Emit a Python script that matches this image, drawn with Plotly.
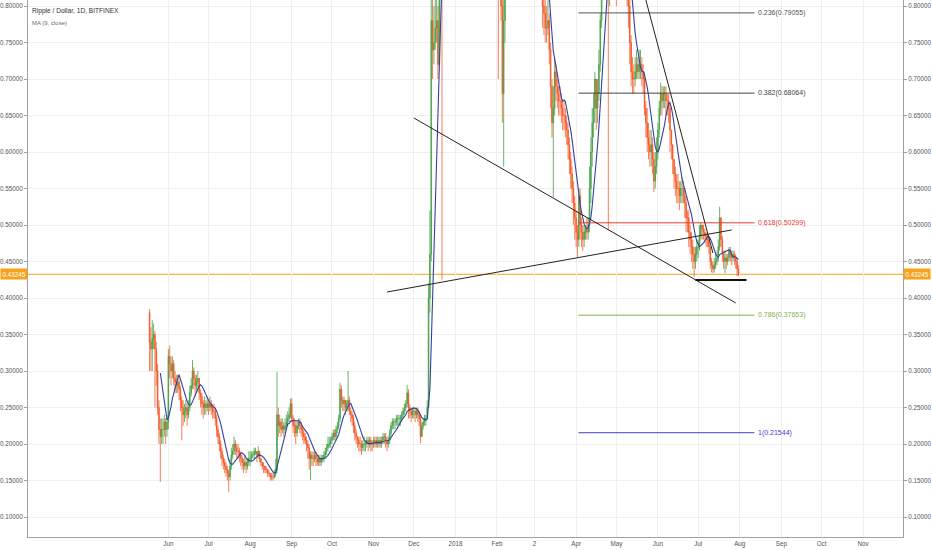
import pandas as pd
import plotly.graph_objects as go

# ---------------- data ----------------
START = "2017-05-18"
FIRST_OPEN = 0.38

close = [
    # May 2017 (18-31)
    .34, .33, .345, .35, .33, .30, .25, .22, .21, .22, .22, .23, .22, .23,
    # Jun 2017
    .32, .31, .30, .31, .29, .285, .28, .285, .275, .26, .25, .24, .245, .25, .24, .25, .27, .28, .30, .29,
    .28, .285, .29, .27, .265, .255, .25, .255, .25, .255,
    # Jul 2017
    .25, .255, .25, .245, .245, .235, .22, .21, .20, .19, .18, .175, .17, .165, .16, .155, .17, .185, .19, .20,
    .195, .19, .19, .185, .18, .175, .17, .175, .17, .175, .18,
    # Aug 2017
    .18, .185, .185, .19, .19, .185, .19, .18, .175, .17, .17, .165, .165, .16, .16, .155, .155, .155, .16, .165,
    .24, .225, .23, .22, .225, .22, .225, .23, .235, .24, .255,
    # Sep 2017
    .235, .225, .225, .215, .225, .23, .225, .22, .215, .21, .205, .20, .195, .18, .185, .18, .18, .185, .18, .175,
    .18, .175, .18, .18, .185, .19, .195, .20, .20, .205,
    # Oct 2017
    .21, .215, .21, .22, .225, .235, .275, .26, .255, .26, .25, .255, .26, .245, .24, .235, .225, .215, .21, .205,
    .20, .20, .195, .20, .20, .20, .205, .20, .205, .20, .20,
    # Nov 2017
    .205, .20, .205, .20, .205, .20, .205, .21, .21, .205, .20, .205, .215, .225, .23, .23, .23, .235, .235, .235,
    .235, .24, .245, .25, .255, .27, .25, .245, .24, .245,
    # Dec 2017
    .245, .24, .245, .24, .235, .21, .225, .23, .235, .235, .25, .40, .46, .78, .74, .75, .77, .78, .72, .90,
    1.10, 1.00, 1.05, 1.00, 1.05, 1.10, 1.30, 1.30, 1.70, 2.00, 2.20,
    # Jan 2018
    2.30, 2.50, 2.90, 3.20, 2.95, 2.80, 2.90, 2.10, 2.00, 1.90, 1.95, 1.85, 2.00, 1.80, 1.75, 1.20, 1.50, 1.60, 1.60, 1.65,
    1.40, 1.30, 1.30, 1.35, 1.35, 1.30, 1.35, 1.45, 1.30, 1.15, 1.15,
    # Feb 2018
    1.00, 0.90, 0.93, 0.80, 0.68, 0.78, 0.82, 0.87, 0.95, 0.98, 1.00, 1.10, 1.05, 1.15, 1.15, 1.17, 1.18, 1.05, 1.10, 1.10,
    1.05, 0.98, 0.97, 0.93, 0.92, 0.95, 0.93, 0.92,
    # Mar 2018
    .92, .90, .93, .92, .90, .84, .80, .79, .77, .77, .78, .74, .69, .64, .66, .71, .69, .68, .67, .67,
    .66, .65, .65, .64, .63, .61, .59, .57, .55, .53, .51,
    # Apr 2018
    .49, .48, .54, .50, .49, .48, .49, .495, .49, .50, .55, .60, .64, .66, .70, .66, .68, .72, .78, .85,
    .87, .88, .92, .93, .82, .88, .85, .88, .90, .86,
    # May 2018
    .85, .88, .91, .90, .91, .87, .84, .83, .83, .80, .75, .71, .70, .70, .71, .72, .71, .72, .72, .71,
    .70, .66, .64, .62, .61, .60, .61, .59, .56, .58, .60,
    # Jun 2018
    .63, .66, .68, .67, .68, .68, .67, .67, .66, .63, .61, .59, .57, .56, .55, .55, .54, .55, .55, .54,
    .53, .51, .51, .49, .48, .47, .46, .45, .46, .47,
    # Jul 2018
    .47, .485, .50, .495, .49, .485, .48, .48, .47, .45, .445, .44, .445, .45, .455, .47, .51, .48, .46, .45,
    .455, .45, .455, .465, .46, .455, .46, .455, .45, .44, .43245,
]

high = [
    .385, .36, .37, .365, .355, .34, .31, .26, .235, .235, .235, .24, .235, .24,
    .33, .335, .32, .32, .315, .30, .295, .295, .29, .28, .265, .26, .255, .26, .255, .26, .28, .29, .315, .305,
    .295, .295, .30, .29, .275, .27, .26, .265, .26, .265,
    .26, .265, .26, .255, .255, .25, .24, .225, .215, .205, .195, .185, .18, .175, .17, .165, .18, .195, .20, .21,
    .205, .20, .20, .195, .19, .185, .18, .185, .18, .18, .19,
    .19, .19, .19, .195, .195, .19, .197, .19, .18, .175, .175, .17, .17, .165, .165, .16, .16, .16, .165, .18,
    .299, .25, .24, .235, .235, .23, .235, .24, .245, .25, .262,
    .263, .24, .235, .23, .23, .235, .235, .23, .225, .22, .215, .21, .205, .20, .19, .19, .19, .19, .19, .185,
    .185, .185, .185, .185, .19, .195, .20, .21, .21, .21,
    .215, .22, .22, .225, .23, .24, .284, .28, .265, .265, .26, .26, .30, .265, .25, .245, .24, .23, .22, .21,
    .21, .21, .205, .205, .21, .205, .21, .21, .21, .21, .205,
    .21, .21, .21, .21, .21, .21, .21, .215, .215, .215, .21, .21, .22, .23, .235, .235, .235, .24, .24, .24,
    .24, .245, .25, .255, .26, .281, .275, .255, .25, .25,
    .25, .25, .25, .25, .245, .24, .23, .235, .24, .24, .26, .42, .52, .90, .85, .80, .82, .83, .80, .95,
    1.20, 1.15, 1.10, 1.10, 1.10, 1.15, 1.35, 1.40, 1.80, 2.10, 2.35,
    2.45, 2.65, 3.00, 3.40, 3.30, 3.00, 3.10, 2.80, 2.20, 2.10, 2.10, 2.00, 2.15, 2.05, 1.90, 1.80, 1.60, 1.75, 1.70, 1.75,
    1.65, 1.45, 1.40, 1.40, 1.40, 1.40, 1.40, 1.50, 1.50, 1.35, 1.25,
    1.15, 1.02, 1.00, 0.95, 0.82, 0.82, 0.90, 0.90, 0.97, 1.00, 1.02, 1.15, 1.12, 1.18, 1.20, 1.20, 1.22, 1.18, 1.12, 1.15,
    1.12, 1.06, 1.02, 0.99, 0.96, 0.98, 0.97, 0.95,
    .96, .95, .95, .96, .93, .91, .85, .82, .81, .80, .81, .79, .75, .70, .69, .73, .72, .70, .69, .69,
    .68, .67, .67, .66, .65, .64, .62, .60, .58, .56, .54,
    .52, .50, .55, .55, .51, .50, .50, .50, .51, .51, .58, .62, .66, .68, .71, .70, .70, .74, .79, .87,
    .90, .92, .94, .96, .94, .90, .89, .90, .92, .91,
    .88, .90, .93, .93, .93, .92, .88, .86, .86, .84, .81, .76, .73, .72, .73, .74, .73, .74, .74, .73,
    .72, .71, .67, .66, .64, .63, .63, .62, .60, .60, .62,
    .64, .67, .695, .69, .69, .69, .69, .68, .68, .67, .63, .61, .59, .58, .57, .57, .56, .56, .565, .56,
    .55, .54, .52, .52, .50, .49, .48, .47, .47, .48,
    .48, .50, .504, .50, .50, .495, .49, .49, .485, .47, .455, .45, .455, .46, .465, .48, .525, .51, .485, .465,
    .465, .46, .46, .47, .47, .465, .465, .465, .46, .455, .445,
]

low = [
    .30, .30, .30, .33, .25, .28, .24, .20, .148, .20, .20, .21, .20, .21,
    .22, .29, .28, .29, .28, .27, .27, .27, .26, .245, .205, .225, .23, .235, .225, .235, .245, .265, .275, .275,
    .265, .27, .275, .26, .25, .24, .235, .24, .24, .245,
    .24, .245, .24, .235, .235, .225, .21, .20, .19, .18, .17, .165, .16, .155, .15, .134, .15, .165, .18, .185,
    .185, .18, .18, .175, .17, .165, .16, .165, .16, .165, .17,
    .17, .175, .18, .18, .185, .175, .18, .175, .17, .165, .16, .16, .16, .155, .155, .15, .15, .15, .152, .155,
    .16, .21, .215, .21, .215, .21, .215, .22, .225, .23, .235,
    .23, .215, .21, .20, .21, .22, .215, .21, .205, .20, .20, .19, .18, .165, .151, .17, .17, .175, .17, .17,
    .17, .17, .17, .175, .175, .18, .185, .19, .195, .195,
    .20, .205, .205, .205, .215, .22, .23, .25, .245, .245, .24, .245, .245, .24, .23, .225, .215, .205, .20, .195,
    .19, .19, .185, .19, .19, .19, .195, .19, .195, .19, .19,
    .195, .195, .195, .195, .195, .195, .195, .20, .20, .195, .19, .195, .20, .21, .22, .22, .22, .225, .225, .225,
    .225, .23, .235, .24, .245, .25, .235, .235, .23, .235,
    .235, .23, .235, .23, .225, .201, .21, .22, .225, .225, .235, .25, .38, .45, .70, .72, .74, .75, .70, .72,
    .90, .425, .95, .95, .98, 1.02, 1.08, 1.15, 1.28, 1.65, 1.90,
    2.05, 2.20, 2.45, 2.85, 2.70, 2.65, 2.70, 2.00, 1.85, 1.70, 1.80, 1.75, 1.80, 1.70, 1.60, 0.90, 1.10, 1.45, 1.50, 1.55,
    1.35, 1.20, 1.20, 1.25, 1.30, 1.25, 1.28, 1.33, 1.28, 1.10, 1.05,
    0.95, 0.70, 0.85, 0.78, 0.64, 0.58, 0.75, 0.82, 0.86, 0.92, 0.95, 0.98, 1.02, 1.02, 1.10, 1.12, 1.12, 1.02, 1.03, 1.06,
    1.02, 0.96, 0.92, 0.90, 0.88, 0.90, 0.90, 0.88,
    .88, .87, .88, .88, .86, .82, .77, .76, .75, .75, .76, .72, .66, .62, .538, .65, .67, .66, .65, .65,
    .64, .63, .63, .62, .61, .59, .57, .55, .53, .50, .48,
    .47, .456, .47, .48, .47, .465, .47, .48, .48, .48, .49, .53, .58, .62, .64, .63, .64, .67, .71, .77,
    .83, .85, .86, .89, .493, .80, .83, .84, .86, .83,
    .80, .83, .86, .86, .87, .85, .81, .81, .80, .77, .72, .69, .68, .68, .69, .70, .70, .70, .70, .69,
    .68, .65, .62, .60, .59, .58, .58, .57, .545, .55, .57,
    .59, .62, .65, .65, .66, .66, .65, .65, .64, .60, .59, .57, .55, .54, .53, .53, .52, .53, .53, .53,
    .51, .49, .49, .47, .46, .45, .44, .429, .44, .45,
    .455, .465, .48, .48, .48, .475, .47, .47, .46, .44, .435, .434, .435, .44, .445, .45, .465, .47, .45, .44,
    .434, .44, .445, .45, .45, .445, .45, .445, .44, .43, .43,
]

month_ticks = ["2017-06-01", "2017-07-01", "2017-08-01", "2017-09-01", "2017-10-01", "2017-11-01",
               "2017-12-01", "2018-01-01", "2018-02-01", "2018-03-01", "2018-04-01", "2018-05-01",
               "2018-06-01", "2018-07-01", "2018-08-01", "2018-09-01", "2018-10-01", "2018-11-01"]
month_labels = ["Jun", "Jul", "Aug", "Sep", "Oct", "Nov", "Dec", "2018", "Feb", "2", "Apr", "May",
                "Jun", "Jul", "Aug", "Sep", "Oct", "Nov"]

price_ticks = [0.10, 0.15, 0.20, 0.25, 0.30, 0.35, 0.40, 0.45, 0.50, 0.55, 0.60, 0.65, 0.70, 0.75, 0.80]

fib_levels = ["0.236", "0.382", "0.618", "0.786", "1"]
fib_prices = [0.79055, 0.68064, 0.50299, 0.37653, 0.21544]
fib_colors = ["#555555", "#444444", "#e53935", "#7cb342", "#3f3fd1"]
fib_span = ("2018-04-02 18:00", "2018-08-12")
fib_label_at = "2018-08-14"

# user-drawn trend lines: (start date, start price, end date, end price)
trend_lines = [
    ("2017-12-01", 0.6466, "2018-07-29", 0.3932),
    ("2017-11-11", 0.4082, "2018-07-26", 0.4932),
    ("2018-05-23", 0.8082, "2018-07-12", 0.4616),
]
support = ("2018-06-29", "2018-08-06", 0.4247)
last_price = 0.43245
ma_len = 9

# ---------------- build ----------------
dates = pd.date_range(START, periods=len(close), freq="D")
opens = [FIRST_OPEN] + close[:-1]
highs = [max(h, o, c) for h, o, c in zip(high, opens, close)]
lows = [min(l, o, c) for l, o, c in zip(low, opens, close)]
ma = pd.Series(close).rolling(ma_len).mean()

UP = "#43a047"
DOWN = "#f4511e"

fig = go.Figure()
fig.add_trace(go.Candlestick(
    x=dates, open=opens, high=highs, low=lows, close=close,
    increasing=dict(fillcolor=UP, line=dict(color="rgba(67,160,71,0.8)", width=1)),
    decreasing=dict(fillcolor=DOWN, line=dict(color="rgba(244,81,30,0.75)", width=1)),
    whiskerwidth=0, showlegend=False, hoverinfo="skip",
))
fig.add_trace(go.Scatter(x=dates, y=ma, mode="lines", line=dict(color="#3341a0", width=1.1),
                         showlegend=False, hoverinfo="skip"))
fig.add_trace(go.Scatter(x=[dates[0]], y=[close[0]], yaxis="y2", mode="markers",
                         marker=dict(opacity=0), showlegend=False, hoverinfo="skip"))

shapes = []
shapes.append(dict(type="line", xref="paper", x0=0, x1=1, yref="y", y0=last_price, y1=last_price,
                   line=dict(color="#f7a21b", width=1), layer="below"))
for lvl, p, col in zip(fib_levels, fib_prices, fib_colors):
    shapes.append(dict(type="line", xref="x", yref="y", x0=fib_span[0], x1=fib_span[1], y0=p, y1=p,
                       line=dict(color=col, width=1)))
for d0, p0, d1, p1 in trend_lines:
    shapes.append(dict(type="line", xref="x", yref="y", x0=d0, y0=p0, x1=d1, y1=p1,
                       line=dict(color="#222222", width=1)))
shapes.append(dict(type="line", xref="x", yref="y", x0=support[0], x1=support[1], y0=support[2], y1=support[2],
                   line=dict(color="#111111", width=2)))

FONT = "Liberation Sans"
annotations = []
for lvl, p, col in zip(fib_levels, fib_prices, fib_colors):
    annotations.append(dict(x=fib_label_at, y=p, xref="x", yref="y", xanchor="left", yanchor="middle",
                            text=f"{lvl}({p:.5f})", showarrow=False, borderpad=0,
                            font=dict(family=FONT, size=7, color=col)))
annotations.append(dict(x=1, y=last_price, xref="paper", yref="y", xanchor="left", yanchor="middle",
                        text=f"{last_price:.5f}", showarrow=False, bgcolor="#f7a21b", borderpad=1.5,
                        font=dict(family=FONT, size=6.3, color="white")))
annotations.append(dict(x=0, y=last_price, xref="paper", yref="y", xanchor="right", yanchor="middle",
                        text=f"{last_price:.5f}", showarrow=False, bgcolor="#f7a21b", borderpad=1.5,
                        font=dict(family=FONT, size=6.3, color="white")))
annotations.append(dict(x=0.003, y=0.9795, xref="paper", yref="paper", xanchor="left", yanchor="middle",
                        text="Ripple / Dollar, 1D, BITFINEX", showarrow=False, borderpad=0,
                        font=dict(family=FONT, size=6.6, color="#333333")))
annotations.append(dict(x=0.003, y=0.957, xref="paper", yref="paper", xanchor="left", yanchor="middle",
                        text="MA (9, close)", showarrow=False, borderpad=0,
                        font=dict(family=FONT, size=6.0, color="#6b6b6b")))

yrange = [0.07260, 0.80822]
axis_font = dict(family=FONT, size=6.3, color="#555555")
fig.update_layout(
    width=932, height=550,
    margin=dict(l=26, r=27, t=0, b=13),
    paper_bgcolor="white", plot_bgcolor="white",
    shapes=shapes, annotations=annotations,
    xaxis=dict(type="date", range=["2017-02-16 08:40", "2018-11-30 17:00"],
               tickvals=month_ticks, ticktext=month_labels, tickfont=axis_font,
               showgrid=True, gridcolor="#efeff2", gridwidth=1,
               showline=True, linecolor="#a0a0a8", linewidth=1, ticks="", zeroline=False,
               rangeslider=dict(visible=False), fixedrange=True),
    yaxis=dict(side="right", range=yrange, tickvals=price_ticks, tickformat=".5f", tickfont=axis_font,
               showgrid=True, gridcolor="#efeff2", gridwidth=1,
               showline=True, linecolor="#a0a0a8", linewidth=1, ticks="outside", ticklen=3,
               tickcolor="#a0a0a8", zeroline=False),
    yaxis2=dict(side="left", overlaying="y", range=yrange, tickvals=price_ticks, tickformat=".5f",
                tickfont=axis_font, showgrid=False, showline=True, linecolor="#a0a0a8", linewidth=1,
                ticks="outside", ticklen=3, tickcolor="#a0a0a8", zeroline=False),
)

fig.write_html("out.html", config={"displayModeBar": False, "staticPlot": True},
               post_script="document.body.style.margin='0';document.body.style.overflow='hidden';")
